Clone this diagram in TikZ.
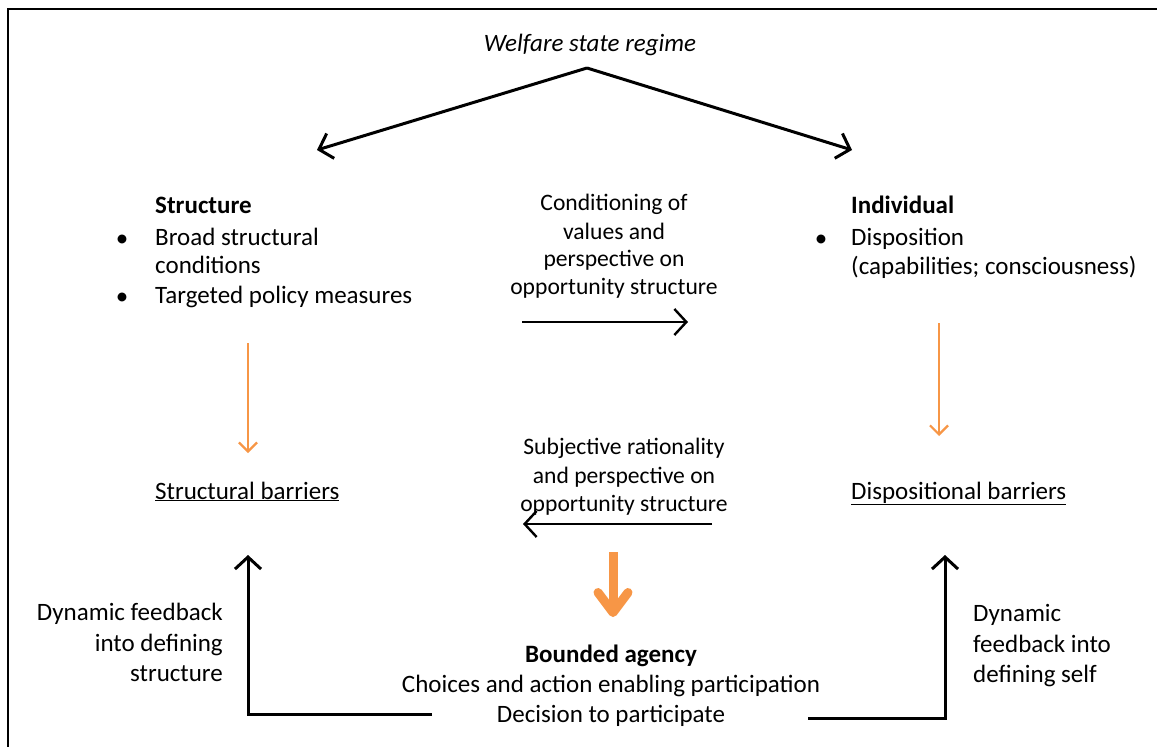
\documentclass[tikz,border=0pt]{standalone}
\usepackage{fontspec}
\setmainfont{Carlito}
\usetikzlibrary{arrows.meta}
\definecolor{officeorange}{RGB}{247,150,70}
\tikzset{
  txt/.style={inner sep=0pt, font=\fontsize{25}{30}\selectfont},
  ctxt/.style={inner sep=0pt, font=\fontsize{23.6}{29}\selectfont},
  blackarrow/.style={line width=3pt, -{Straight Barb[length=12pt,width=26pt]}},
  thinorange/.style={draw=officeorange, line width=2.2pt, -{Straight Barb[length=9pt,width=18pt]}},
  thickorange/.style={draw=officeorange, line width=9pt, -{Straight Barb[length=20pt,width=30pt,round]}},
  frame/.style={line width=2pt},
}
\begin{document}
\begin{tikzpicture}[x=1pt,y=-1pt]
\useasboundingbox (0,0) rectangle (1157,747);
\draw[frame] (8,747) -- (8,9) -- (1157,9);

% top
\node[txt, anchor=base] (welfare) at (590,51) {\itshape Welfare state regime};
\coordinate (apex) at (587,68);
\coordinate (ltip) at (317,150);
\coordinate (rtip) at (852,150);
\draw[blackarrow] (apex) -- (ltip);
\draw[blackarrow] (apex) -- (rtip);

% Structure block
\node[txt, anchor=base west] (structure) at (155,213) {\textbf{Structure}};
\node[txt, anchor=base west] (s1) at (155,245) {Broad structural};
\node[txt, anchor=base west] (s2) at (155,273) {conditions};
\node[txt, anchor=base west] (s3) at (155,303) {Targeted policy measures};
\node[txt, anchor=base] (b1) at (122,246) {•};
\node[txt, anchor=base] (b2) at (122,304) {•};

% Individual block
\node[txt, anchor=base west] (individual) at (851,213) {\textbf{Individual}};
\node[txt, anchor=base west] (i1) at (851,245) {Disposition};
\node[txt, anchor=base west] (i2) at (851,274) {(capabilities; consciousness)};
\node[txt, anchor=base] (b3) at (821,246) {•};

% centre upper text
\node[ctxt, anchor=base] (c1) at (614,210) {Conditioning of};
\node[ctxt, anchor=base] (c2) at (614,239) {values and};
\node[ctxt, anchor=base] (c3) at (614,266) {perspective on};
\node[ctxt, anchor=base] (c4) at (614,294) {opportunity structure};
\coordinate (cond1) at (522,322);
\coordinate (cond2) at (688,322);
\draw[blackarrow, line width=2.4pt] (cond1) -- (cond2);

% barriers
\node[txt, anchor=base west] (sbar) at (155,499) {\underline{Structural barriers}};
\node[txt, anchor=base west] (dbar) at (851,499) {\underline{Dispositional barriers}};
\coordinate (so1) at (248,343);
\coordinate (so2) at (248,453);
\coordinate (do1) at (939,323);
\coordinate (do2) at (939,436);
\draw[thinorange] (so1) -- (so2);
\draw[thinorange] (do1) -- (do2);

% centre lower text
\node[ctxt, anchor=base] (r1) at (624,454) {Subjective rationality};
\node[ctxt, anchor=base] (r2) at (624,483) {and perspective on};
\node[ctxt, anchor=base] (r3) at (624,511) {opportunity structure};
\coordinate (rat1) at (712,524);
\coordinate (rat2) at (523,524);
\draw[blackarrow, line width=2.4pt] (rat1) -- (rat2);

\coordinate (bo1) at (613,552);
\coordinate (bo2) at (613,617);
\draw[thickorange] (bo1) -- (bo2);

% bounded agency
\node[txt, anchor=base] (ba1) at (611,662) {\textbf{Bounded agency}};
\node[txt, anchor=base] (ba2) at (611,692) {Choices and action enabling participation};
\node[txt, anchor=base] (ba3) at (611,722) {Decision to participate};

% feedback texts
\node[txt, anchor=base east] (fl1) at (223,620) {Dynamic feedback};
\node[txt, anchor=base east] (fl2) at (223,651) {into defining};
\node[txt, anchor=base east] (fl3) at (223,681) {structure};
\node[txt, anchor=base west] (fr1) at (973,621) {Dynamic};
\node[txt, anchor=base west] (fr2) at (973,652) {feedback into};
\node[txt, anchor=base west] (fr3) at (973,682) {defining self};

% feedback connectors
\coordinate (fbl0) at (432,714);
\coordinate (fbl1) at (248,714);
\coordinate (fbl2) at (248,555);
\draw[blackarrow] (fbl0) -- (fbl1) -- (fbl2);
\coordinate (fbr0) at (808,718);
\coordinate (fbr1) at (945,718);
\coordinate (fbr2) at (945,555);
\draw[blackarrow] (fbr0) -- (fbr1) -- (fbr2);
\end{tikzpicture}
\end{document}
